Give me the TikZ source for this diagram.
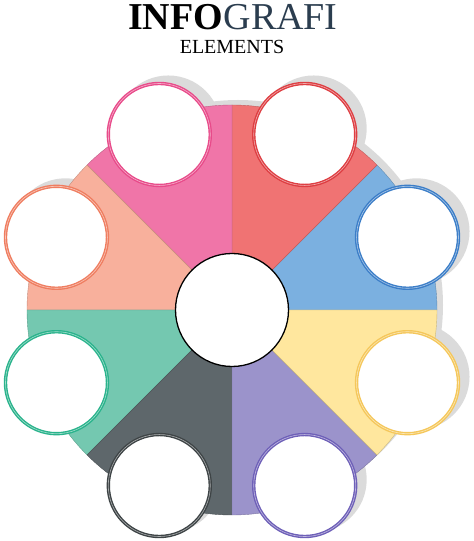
\documentclass[tikz,border=0pt]{standalone}
\usepackage{fontspec}
\setmainfont{Liberation Serif}
\usepackage{tikz}
\definecolor{grafi}{rgb}{.17,.24,.31}
\definecolor{pinksec}{RGB}{240,117,168}
\definecolor{pinkring}{RGB}{232,75,138}
\definecolor{redsec}{RGB}{240,115,115}
\definecolor{redring}{RGB}{222,62,66}
\definecolor{bluesec}{RGB}{123,176,224}
\definecolor{bluering}{RGB}{60,126,200}
\definecolor{yellowsec}{RGB}{255,231,158}
\definecolor{yellowring}{RGB}{245,199,90}
\definecolor{purplesec}{RGB}{155,147,203}
\definecolor{purplering}{RGB}{110,96,184}
\definecolor{darksec}{RGB}{94,103,107}
\definecolor{darkring}{RGB}{62,68,70}
\definecolor{greensec}{RGB}{116,200,176}
\definecolor{greenring}{RGB}{42,179,140}
\definecolor{salmonsec}{RGB}{248,176,156}
\definecolor{salmonring}{RGB}{239,125,96}
\tikzset{
  shadowfill/.style={fill=black!14},
  ring/.style={circle, fill=white, draw=#1, double=#1!45, double distance=0.6pt,
    line width=1.4pt, minimum size=102pt, inner sep=0pt},
  hubcircle/.style={circle, fill=white, draw=black, line width=1.3pt,
    minimum size=113pt, inner sep=0pt}
}

\begin{document}
\begin{tikzpicture}[x=1pt,y=1pt]
  \useasboundingbox (0,0) rectangle (474,541);
  \coordinate (hub) at (232,231);

  % Title
  \node[anchor=base west, inner sep=0pt, font=\fontsize{38}{40}\selectfont\bfseries] (info) at (128,511) {INFO};
  \node[anchor=base west, inner sep=0pt, text=grafi, font=\fontsize{38}{40}\selectfont] (grafi) at (info.base east) {GRAFI};
  \node[anchor=base, inner sep=0pt, font=\fontsize{20}{22}\selectfont] (elements) at (232,487) {ELEMENTS};

  % Shadows behind the wheel and the circles
  \fill[shadowfill] ([shift={(6,5)}]hub) circle (205pt);
  \foreach \m in {22.5,67.5,...,337.5}
    \fill[shadowfill] ([shift={(\m:190pt)}]hub) ++(9,6) circle (53pt);

  % Sectors of the wheel
  \foreach \s/\col in {0/bluesec, 45/redsec, 90/pinksec, 135/salmonsec,
                       180/greensec, 225/darksec, 270/purplesec, 315/yellowsec}
    \filldraw[fill=\col, draw=\col!80!black, line width=0.4pt]
      (hub) -- ([shift={(\s:205pt)}]hub) arc[start angle=\s, end angle=\s+45, radius=205pt] -- cycle;

  % Circles on the sectors
  \foreach \m/\col [count=\i] in {22.5/bluering, 67.5/redring, 112.5/pinkring, 157.5/salmonring,
                                  202.5/greenring, 247.5/darkring, 292.5/purplering, 337.5/yellowring}
    \node[ring=\col] (c\i) at ([shift={(\m:190pt)}]hub) {};

  % Middle circle
  \node[hubcircle] (middle) at (hub) {};
\end{tikzpicture}
\end{document}
